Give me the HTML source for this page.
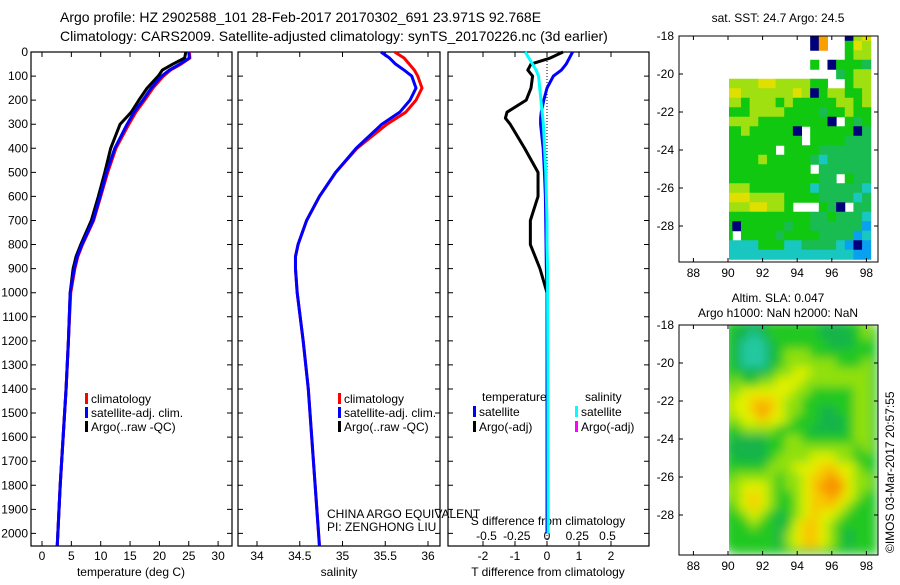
<!DOCTYPE html>
<html><head><meta charset="utf-8"><style>
body{margin:0;background:#fff;}
svg text{font-family:"Liberation Sans",sans-serif;font-size:12px;fill:#000;}
</style></head><body>
<svg id="root" width="900" height="580" xmlns="http://www.w3.org/2000/svg">
<defs><filter id="blur" x="-5%" y="-5%" width="110%" height="110%"><feGaussianBlur stdDeviation="5"/></filter>
<clipPath id="clipB"><rect x="729" y="325" width="149" height="230"/></clipPath>
<clipPath id="clipT"><rect x="729" y="36" width="149" height="226"/></clipPath></defs>
<g id="g"></g>
<text x="60" y="22" style="font-size:14px">Argo profile: HZ 2902588_101 28-Feb-2017 20170302_691 23.971S 92.768E</text>
<text x="60" y="41" style="font-size:14px">Climatology: CARS2009. Satellite-adjusted climatology: synTS_20170226.nc (3d earlier)</text>
<text x="327" y="518">CHINA ARGO EQUIVALENT</text>
<text x="327" y="531">PI: ZENGHONG LIU</text>
<text x="0" y="0" transform="translate(894,553) rotate(-90)">©IMOS 03-Mar-2017 20:57:55</text>
<text x="778" y="22" text-anchor="middle">sat. SST: 24.7 Argo: 24.5</text>
<text x="778" y="302" text-anchor="middle">Altim. SLA: 0.047</text>
<text x="778" y="317" text-anchor="middle">Argo h1000: NaN h2000: NaN</text>
</svg>
<script>
// ---- data ----
const depths=[0,25,50,75,100,150,200,250,300,400,500,600,700,800,850,900,1000,1200,1400,1600,1800,2000,2050];
const tempClim=[25.1,25.2,23.7,21.9,20.7,18.9,17.5,16.0,14.8,12.6,11.2,10.0,8.8,6.9,6.1,5.6,4.9,4.5,4.1,3.6,3.1,2.7,2.6];
const tempSat=[25.0,25.1,23.5,21.7,20.4,18.6,17.2,15.7,14.5,12.4,11.0,9.9,8.7,6.8,6.0,5.5,4.8,4.5,4.1,3.6,3.1,2.7,2.6];
const tempArgo=[24.5,24.3,22.3,20.5,19.8,17.9,16.5,15.2,13.3,11.7,10.7,9.6,8.4,6.6,5.8,5.3,4.8,4.5,4.1,3.6,3.1,2.7,2.6];
const salClim=[35.61,35.72,35.78,35.84,35.88,35.93,35.86,35.74,35.52,35.17,34.92,34.73,34.58,34.48,34.45,34.45,34.47,34.54,34.6,34.64,34.68,34.72,34.73];
const salSat=[35.45,35.55,35.62,35.72,35.81,35.86,35.79,35.67,35.46,35.16,34.92,34.73,34.58,34.48,34.45,34.45,34.47,34.54,34.6,34.64,34.68,34.72,34.73];
const diffDepths=[0,25,50,75,100,150,200,250,275,300,400,500,600,700,800,900,1000,1400,2000];
const tDiffSat=[0.8,0.7,0.6,0.45,0.2,0.0,-0.1,-0.18,-0.2,-0.2,-0.12,-0.08,-0.05,-0.04,-0.03,-0.02,0,0,0];
const tDiffArgo=[0.5,0.1,-0.5,-0.6,-0.45,-0.5,-0.65,-1.25,-1.3,-1.15,-0.7,-0.28,-0.28,-0.52,-0.52,-0.22,0,0,0];
const sDiffSat=[-0.18,-0.15,-0.12,-0.09,-0.07,-0.06,-0.05,-0.04,-0.035,-0.03,-0.02,-0.01,-0.005,0,0,0.005,0.005,0.008,0.01];
const depthTicks=[0,100,200,300,400,500,600,700,800,900,1000,1100,1200,1300,1400,1500,1600,1700,1800,1900,2000];
const tempTicks=[0,5,10,15,20,25,30];
const salTicks=[34,34.5,35,35.5,36];
const tDiffTicks=[-2,-1,0,1,2];
const sDiffTicks=[-0.5,-0.25,0,0.25,0.5];
const lonTicks=[88,90,92,94,96,98];
const latTicks=[-18,-20,-22,-24,-26,-28];
const sstGrid=["00000000001800167","00000000001800576","00000000000000566","00000000005015554","00000000000004566","66667766665500566","77666666761566556","66566656555556656","55566665555455655","66665555555510545","55655555105555514","55555555505555444","55555505555444444","55556555554344444","55555555550444444","55555555555440544","66655555553444443","77766665555444434","66677665000541044","55555555554454443","51555554554444442","50555545555444423","33335553344443212","33333333333333322"];
const slaGrid=["55444555555444556","54434555555444456","54333455555544455","54333456665555555","54333456666665556","55444566776666666","56556677766666666","66777777665555566","67788876655555566","67789876655445566","66778776555444566","55666655554444566","54444556655555566","44444556666666656","54444566667776655","55555666777887765","56666656678898766","66777656678999766","66787655678898765","56787655678887655","55676545678776555","55565545788765555","55555546788765455","55555546788765455"];
const sstColors=["none","#00007a","#0aa0f0","#18c8c0","#18bc50","#10c810","#a0e010","#e0e000","#f8a000"];
const slaColors=["#fff","#fff","#fff","#20c8a0","#18b448","#20c820","#90e010","#e0f000","#f8c800","#f89000"];
// ---- helpers ----
const NS="http://www.w3.org/2000/svg";
const G=document.getElementById('g');
function mk(tag,attrs,parent){const e=document.createElementNS(NS,tag);for(const k in attrs)e.setAttribute(k,attrs[k]);(parent||G).appendChild(e);return e;}
const Y0=52,YS=0.2407;
const yD=d=>Y0+d*YS;
const xT=v=>42+v*5.87;
const xS=v=>257+(v-34)*85.5;
const xTD=v=>547+v*32;
const xSD=v=>547+v*121;
function panel(name,x0,x1){
  const r=mk('rect',{x:x0,y:Y0,width:x1-x0,height:546-Y0,fill:'none',stroke:'#000','stroke-width':1.2});
  
  
  depthTicks.forEach(d=>{
    const t=mk('path',{d:`M${x0},${yD(d)}h5M${x1},${yD(d)}h-5`,stroke:'#000'});
    
    
  });
}
function xTicks(name,ticks,fx,y){
  ticks.forEach(v=>{
    const t=mk('path',{d:`M${fx(v)},546v-5M${fx(v)},${Y0}v5`,stroke:'#000'});
    
    
    const l=mk('text',{x:fx(v),y:y,'text-anchor':'middle'});l.textContent=String(v);
    
    
  });
}
function line(name,xs,ds,fx,col,w){
  const p=mk('polyline',{points:xs.map((v,i)=>fx(v)+','+yD(ds[i])).join(' '),fill:'none',stroke:col,'stroke-width':w||3,'stroke-linejoin':'round'});
  
  
}
function legend(name,x,y,col,txt){
  const r=mk('rect',{x:x,y:y-10,width:3,height:11,fill:col});
  
  
  const t=mk('text',{x:x+6,y:y});t.textContent=txt;
  
  
}
function label(name,x,y,txt,anchor){const t=mk('text',{x:x,y:y,'text-anchor':anchor||'middle'});t.textContent=txt;
  
  }
depthTicks.forEach(d=>{const t=mk('text',{x:28,y:yD(d)+4,'text-anchor':'end'});t.textContent=String(d);
  
  });
// panel 1
panel('temperature-panel',31,232);
xTicks('temperature-x',tempTicks,xT,560);
label('temperature-x-title',131,576,'temperature (deg C)');
line('temperature-argo-line',tempArgo,depths,xT,'#000');
line('temperature-climatology-line',tempClim,depths,xT,'#f00');
line('temperature-satellite-line',tempSat,depths,xT,'#00f');
legend('legend-climatology',85,403,'#f00','climatology');
legend('legend-satellite-adj',85,417,'#00f','satellite-adj. clim.');
legend('legend-argo',85,431,'#000','Argo(..raw -QC)');
// panel 2
panel('salinity-panel',238,440);
xTicks('salinity-x',salTicks,xS,560);
label('salinity-x-title',339,576,'salinity');
line('salinity-climatology-line',salClim,depths,xS,'#f00');
line('salinity-satellite-line',salSat,depths,xS,'#00f');
legend('legend-sal-climatology',338,403,'#f00','climatology');
legend('legend-sal-satellite-adj',338,417,'#00f','satellite-adj. clim.');
legend('legend-sal-argo',338,431,'#000','Argo(..raw -QC)');
// panel 3
panel('difference-panel',448,649);
xTicks('t-diff-x',tDiffTicks,xTD,560);
sDiffTicks.forEach(v=>label('s-diff-tick-label',xSD(v),540,String(v)));
label('s-diff-title',548,525,'S difference from climatology');
label('t-diff-title',548,576,'T difference from climatology');
const dl=mk('line',{x1:547,x2:547,y1:Y0,y2:546,stroke:'#000','stroke-dasharray':'1,2'});


line('t-diff-argo-line',tDiffArgo,diffDepths,xTD,'#000');
line('t-diff-satellite-line',tDiffSat,diffDepths,xTD,'#00f');
line('s-diff-satellite-line',sDiffSat,diffDepths,xSD,'#0ff');
label('legend-temperature-heading',482,401,'temperature','start');
label('legend-salinity-heading',585,401,'salinity','start');
legend('legend-t-satellite',473,416,'#00f','satellite');
legend('legend-t-argo',473,431,'#000','Argo(-adj)');
legend('legend-s-satellite',575,416,'#0ff','satellite');
legend('legend-s-argo',575,431,'#f0f','Argo(-adj)');
// maps
const lonX=l=>728+(l-90)*17.3;
function map(name,top,bottom,grid,colors,blur){
  const latY=la=>top+(-18-la)*19;
  const outer=mk('g',{'clip-path':blur?'url(#clipB)':'url(#clipT)'});
  const g=mk('g',blur?{filter:'url(#blur)'}:{},outer);
  
  
  if(blur){const bg=mk('rect',{x:729,y:top,width:149,height:bottom-top,fill:'#3c3'},g);
    
    }
  grid.forEach((row,ri)=>{[...row].forEach((c,ci)=>{
    const col=colors[+c];if(col==='none')return;
    const lo=90+ci*0.5-0.25, la=-18-ri*0.5+0.25;
    const x=lonX(lo), y=latY(la);
    const r=mk('rect',{x:x,y:y,width:lonX(lo+0.5)-x+0.5,height:latY(la-0.5)-y+0.5,fill:col},g);
    
    
  });});
  const f=mk('rect',{x:679,y:top,width:199,height:bottom-top,fill:'none',stroke:'#000'});
  
  
  lonTicks.forEach(l=>{
    const t=mk('path',{d:`M${lonX(l)},${bottom}v-4M${lonX(l)},${top}v4`,stroke:'#000'});
    
    
    label(name+'-lon-label',lonX(l),bottom+15,String(l));
  });
  latTicks.forEach(la=>{
    const t=mk('path',{d:`M679,${latY(la)}h4M878,${latY(la)}h-4`,stroke:'#000'});
    
    
    label(name+'-lat-label',674,latY(la)+4,String(la),'end');
  });
}
map('sst-map',36,262,sstGrid,sstColors,false);
map('sla-map',325,555,slaGrid,slaColors,true);
</script>
</body></html>
